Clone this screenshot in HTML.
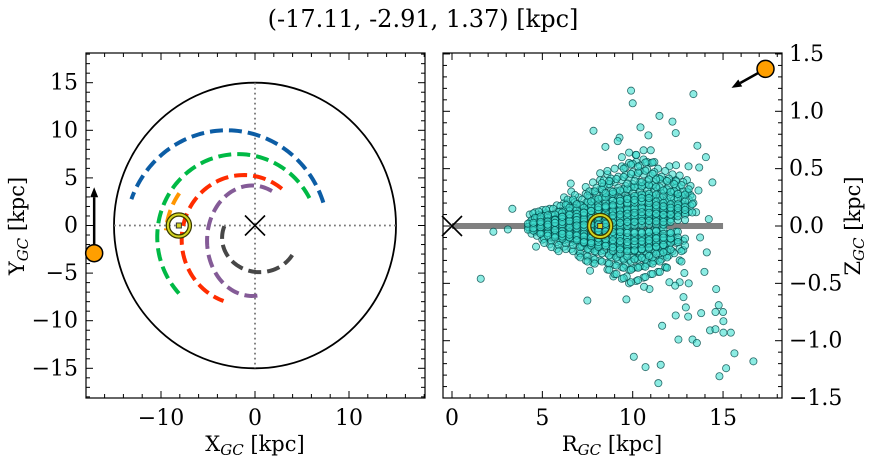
<!DOCTYPE html>
<html><head><meta charset="utf-8">
<style>
html,body{margin:0;padding:0;background:#fff;}
svg{display:block;font-family:"DejaVu Serif","Liberation Serif",serif;}
</style></head>
<body>
<svg id="c" width="874" height="464" viewBox="0 0 874 464" xmlns="http://www.w3.org/2000/svg">
<text x="423" y="27" text-anchor="middle" font-size="24">(-17.11, -2.91, 1.37) [kpc]</text>
<g id="left"></g>
<g id="right"></g>
</svg>
<script>
// ---- data ----
const starXY = [-17.11, -2.91];
const starRZ = [17.35, 1.37];
const sunXY = [-8.1, 0];
const sunRZ = [8.2, 0];
const diskRadius = 15;
// orbit arcs: [cx, cy, rx, ry, startDeg, endDeg, color]
const arcBlue = [-3, -1, 10.8, 11, 18, 160, '#0C5DA5'];
const arcGreen = [-1.8, -1.2, 8.6, 8.7, 28, 223, '#00B945'];
const arcRed = [-1.2, -1.5, 6.6, 6.8, 52, 251, '#FF2C00'];
const arcPurple = [-0.3, -1.6, 4.8, 5.8, 64, 280, '#845B97'];
const arcGray = [0.5, -1.3, 4.0, 3.6, 160, 330, '#474747'];
const arcOrange = [-1.5, -1.2, 8, 8, 145, 175, '#FF9500'];
const arcs = [arcBlue, arcGreen, arcRed, arcPurple, arcGray, arcOrange];
// scatter outliers [R, Z]
const outliers = [[9.91,1.18],[10.0,1.07],[13.36,1.15],[11.48,0.96],[12.2,0.91],[7.83,0.83],[10.43,0.86],[12.38,0.81],[10.87,0.79],[9.27,0.77],[9.17,0.74],[8.49,0.69],[13.58,0.70],[14.05,0.60],[10.17,0.62],[14.41,0.38],[6.57,0.37],[3.34,0.15],[2.29,-0.05],[3.09,-0.03],[1.59,-0.46],[4.65,-0.18],[7.49,-0.65],[9.65,-0.64],[11.63,-0.87],[10.06,-1.14],[10.71,-1.23],[11.42,-1.37],[11.55,-1.21],[12.53,-0.99],[12.38,-0.78],[12.81,-0.62],[12.94,-0.71],[13.07,-0.79],[13.79,-0.76],[13.31,-0.99],[13.55,-1.02],[14.28,-0.91],[14.58,-0.90],[14.76,-0.69],[14.58,-0.75],[15.0,-0.75],[15.02,-0.83],[15.02,-0.93],[15.43,-0.93],[15.63,-1.11],[15.17,-1.24],[14.8,-1.31],[16.68,-1.18],[14.62,-0.55],[13.97,-0.40],[14.1,-0.23],[13.73,-0.10],[14.21,0.06],[13.51,0.12],[13.36,0.20],[13.05,0.29],[13.64,0.31],[12.38,0.40],[12.03,0.52],[12.4,0.53],[13.09,0.52],[13.68,0.51],[12.86,-0.41],[12.6,-0.49],[12.03,-0.49],[12.35,-0.52],[13.1,-0.50],[10.93,-0.55],[10.63,-0.53],[11.83,-0.36],[8.93,-0.44],[7.64,-0.39],[9.67,-0.44]];
// dense core: [R, [Z values]]
const core = [[4.3,[0.03,-0.03,0.1]],[4.6,[0.08,-0.05,0.0,0.12]],[5.0,[0.1,-0.08,0.02,0.14,-0.12]],[5.4,[0.15,-0.1,0.03,-0.16,0.08]],[5.8,[0.18,-0.14,0.05,-0.04,0.12,-0.2]],[6.2,[0.2,-0.18,0.08,-0.06,0.14,-0.12,0.25]],[6.6,[0.22,-0.2,0.1,-0.08,0.02,0.16,-0.14,0.3]],[7.0,[0.25,-0.22,0.12,-0.1,0.0,0.18,-0.16,0.06,-0.26]],[7.4,[0.28,-0.25,0.14,-0.12,0.02,0.2,-0.18,0.08,0.34,-0.3]],[7.8,[0.3,-0.28,0.15,-0.13,0.02,0.22,-0.2,0.08,0.38,-0.06,-0.32]],[8.2,[0.32,-0.3,0.16,-0.14,0.0,0.24,-0.22,0.08,0.4,-0.06,0.46]],[8.6,[0.35,-0.32,0.18,-0.15,0.02,0.26,-0.24,0.1,0.45,-0.07,-0.38,0.48]],[9.0,[0.38,-0.34,0.2,-0.16,0.03,0.28,-0.26,0.12,0.5,-0.08,-0.42]],[9.4,[0.4,-0.36,0.22,-0.18,0.04,0.3,-0.28,0.12,0.52,-0.08,-0.46,0.6]],[9.8,[0.42,-0.38,0.24,-0.2,0.05,0.32,-0.3,0.14,0.55,-0.1,-0.5,0.64]],[10.2,[0.44,-0.36,0.26,-0.2,0.06,0.34,-0.28,0.14,0.56,-0.1,-0.48,0.62]],[10.6,[0.45,-0.35,0.27,-0.2,0.07,0.35,-0.28,0.16,0.58,-0.1,-0.45,0.66]],[11.0,[0.44,-0.32,0.26,-0.18,0.08,0.34,-0.26,0.16,0.55,-0.08,-0.42,0.66]],[11.4,[0.42,-0.3,0.24,-0.16,0.08,0.32,-0.22,0.15,0.5,-0.06,-0.4]],[11.8,[0.4,-0.26,0.22,-0.12,0.08,0.3,-0.2,0.14,0.48,-0.36]],[12.2,[0.38,-0.22,0.2,-0.1,0.3,0.14,0.45]],[12.6,[0.34,-0.2,0.18,0.26,0.44,-0.3]],[13.0,[0.3,0.18,0.4]]];
const leftXTicks = [-10, 0, 10];
const leftYTicks = [-15, -10, -5, 0, 5, 10, 15];
const rightXTicks = [0, 5, 10, 15];
const rightYTicks = [-1.5, -1.0, -0.5, 0.0, 0.5, 1.0, 1.5];

// ---- axes ----
const NS = 'http://www.w3.org/2000/svg';
const L = {x0:86, x1:425, y0:53, y1:398};
const R = {x0:443, x1:782, y0:53, y1:398};
const lx = v => 255 + v*9.4;
const ly = v => 225.5 - v*9.52;
const rx = v => 452 + v*18.07;
const ry = v => 226 - v*114.7;

function mk(tag, attrs, parent){
  const e = document.createElementNS(NS, tag);
  for (const k in attrs) e.setAttribute(k, attrs[k]);
  parent.appendChild(e);
  return e;
}
const gl = document.getElementById('left');
const gr = document.getElementById('right');

function fmtMinus(s){ return String(s).replace('-', '\u2212'); }

function frame(g, B, xs, ys, xMajor, xMinorStep, xr, yMajor, yMinorStep, yr, labelRight, yfmt){
  for (let v = xr[0]; v <= xr[1]+1e-9; v += xMinorStep){
    const X = xs(v); if (X < B.x0 || X > B.x1) continue;
    const isMaj = xMajor.some(m => Math.abs(m-v) < 1e-6);
    const len = isMaj ? 7 : 4;
    const t1 = mk('line', {x1:X, x2:X, y1:B.y1, y2:B.y1-len, stroke:'#000', 'stroke-width':1}, g);
    
    
    const t2 = mk('line', {x1:X, x2:X, y1:B.y0, y2:B.y0+len, stroke:'#000', 'stroke-width':1}, g);
    
    
  }
  for (let v = yr[0]; v <= yr[1]+1e-9; v += yMinorStep){
    const Y = ys(v); if (Y < B.y0 || Y > B.y1) continue;
    const isMaj = yMajor.some(m => Math.abs(m-v) < 1e-6);
    const len = isMaj ? 7 : 4;
    const t1 = mk('line', {x1:B.x0, x2:B.x0+len, y1:Y, y2:Y, stroke:'#000', 'stroke-width':1}, g);
    
    
    const t2 = mk('line', {x1:B.x1, x2:B.x1-len, y1:Y, y2:Y, stroke:'#000', 'stroke-width':1}, g);
    
    
  }
  xMajor.forEach(v => {
    const t = mk('text', {x:xs(v), y:B.y1+27, 'text-anchor':'middle', 'font-size':22}, g);
    t.textContent = fmtMinus(v);
    
    
  });
  yMajor.forEach(v => {
    const t = mk('text', labelRight ? {x:B.x1+7, y:ys(v)+7, 'text-anchor':'start', 'font-size':22}
                                    : {x:B.x0-8, y:ys(v)+7, 'text-anchor':'end', 'font-size':22}, g);
    t.textContent = fmtMinus(yfmt(v));
    
    
  });
  const r = mk('rect', {x:B.x0, y:B.y0, width:B.x1-B.x0, height:B.y1-B.y0, fill:'none', stroke:'#000', 'stroke-width':1.2}, g);
  
  
}

function cross(g, X, Y, s, name){
  const p = mk('path', {d:`M${X-s},${Y-s}L${X+s},${Y+s}M${X-s},${Y+s}L${X+s},${Y-s}`, stroke:'#000', 'stroke-width':1.6, fill:'none'}, g);
  
  
}
function sunMark(g, X, Y, name){
  const a = mk('circle', {cx:X, cy:Y, r:11, fill:'none', stroke:'#3a3a00', 'stroke-width':4.5}, g);
  
  
  const b = mk('circle', {cx:X, cy:Y, r:11, fill:'none', stroke:'#d4d420', 'stroke-width':2}, g);
  
  
  const c = mk('rect', {x:X-2.5, y:Y-2.5, width:5, height:5, fill:'#d4d420', stroke:'#333', 'stroke-width':1}, g);
  
  
}
function arrow(g, x1, y1, x2, y2, name){
  const ang = Math.atan2(y2-y1, x2-x1), h = 10, w = 4;
  const bx = x2 - h*Math.cos(ang), by = y2 - h*Math.sin(ang);
  const l = mk('line', {x1:x1, y1:y1, x2:bx, y2:by, stroke:'#000', 'stroke-width':2.5}, g);
  
  
  const px = -Math.sin(ang)*w, py = Math.cos(ang)*w;
  const p = mk('polygon', {points:`${x2},${y2} ${bx+px},${by+py} ${bx-px},${by-py}`, fill:'#000'}, g);
  
  
}

// ---- left panel ----
frame(gl, L, lx, ly, leftXTicks, 2, [-18, 18], leftYTicks, 1, [-18, 18], false, v => v);
const disk = mk('ellipse', {cx:lx(0), cy:ly(0), rx:diskRadius*9.4, ry:diskRadius*9.52, fill:'none', stroke:'#000', 'stroke-width':1.8}, gl);


const hx = mk('line', {x1:lx(-15), x2:lx(15), y1:ly(0), y2:ly(0), stroke:'#777', 'stroke-width':1.8, 'stroke-dasharray':'1.8 3.2'}, gl);


const vy = mk('line', {x1:lx(0), x2:lx(0), y1:ly(15), y2:ly(-15), stroke:'#777', 'stroke-width':1.8, 'stroke-dasharray':'1.8 3.2'}, gl);


const arcNames = ['orbit-arc-blue','orbit-arc-green','orbit-arc-red','orbit-arc-purple','orbit-arc-gray','orbit-arc-orange'];
arcs.forEach((a, i) => {
  const [cx, cy, ax, ay, s, e, col] = a;
  let d = '';
  for (let k = 0; k <= 80; k++){
    const t = (s + (e - s)*k/80) * Math.PI/180;
    d += (k ? 'L' : 'M') + lx(cx + ax*Math.cos(t)).toFixed(2) + ',' + ly(cy + ay*Math.sin(t)).toFixed(2);
  }
  const p = mk('path', {d:d, fill:'none', stroke:col, 'stroke-width':4, 'stroke-dasharray':'13 6'}, gl);
  
  
});
cross(gl, lx(0), ly(0), 10, 'galactic-center-marker');
sunMark(gl, lx(sunXY[0]), ly(sunXY[1]), 'sun-marker');
arrow(gl, lx(starXY[0]), ly(starXY[1]), lx(starXY[0]), ly(starXY[1]) - 66, 'star-velocity-arrow');
const sl = mk('circle', {cx:lx(starXY[0]), cy:ly(starXY[1]), r:8.5, fill:'#FF9F00', stroke:'#000', 'stroke-width':1.5}, gl);


const xl = mk('text', {x:255, y:451, 'text-anchor':'middle', 'font-size':21}, gl);
xl.innerHTML = 'X<tspan font-size="15" dy="4" font-style="italic">GC</tspan><tspan dy="-4"> [kpc]</tspan>';


const yl = mk('text', {x:0, y:0, 'text-anchor':'middle', 'font-size':21, transform:'translate(24,226) rotate(-90)'}, gl);
yl.innerHTML = 'Y<tspan font-size="15" dy="4" font-style="italic">GC</tspan><tspan dy="-4"> [kpc]</tspan>';



// ---- right panel ----
frame(gr, R, rx, ry, rightXTicks, 1, [0, 18], rightYTicks, 0.1, [-1.5, 1.5], true, v => v.toFixed(1));
const band = mk('line', {x1:rx(0), x2:rx(15), y1:ry(0), y2:ry(0), stroke:'#808080', 'stroke-width':6}, gr);


const gs = mk('g', {}, gr);


function dot(R_, Z_){
  const c = mk('circle', {cx:rx(R_), cy:ry(Z_), r:3.6, fill:'rgba(64,224,208,0.6)', stroke:'rgba(0,70,70,0.8)', 'stroke-width':0.8}, gs);
  
  
}
outliers.forEach(([R_, Z_]) => dot(R_, Z_));
core.forEach(([R_, zs]) => zs.forEach(z => dot(R_, z)));
core.forEach(([R_, zs]) => zs.forEach(z => dot(R_ + 0.2, z * 0.8 + 0.03)));
core.forEach(([R_, zs]) => zs.forEach(z => dot(R_ + 0.1, z * 0.9 - 0.04)));
core.forEach(([R_, zs]) => zs.forEach(z => dot(R_ + 0.3, z * 0.6 + 0.01)));
core.forEach(([R_, zs]) => zs.forEach(z => dot(R_ - 0.1, z * 0.4 - 0.02)));
cross(gr, rx(0), ry(0), 10, 'galactic-center-marker-rz');
sunMark(gr, rx(sunRZ[0]), ry(sunRZ[1]), 'sun-marker-rz');
arrow(gr, rx(starRZ[0]), ry(starRZ[1]), rx(starRZ[0]) - 34, ry(starRZ[1]) + 19, 'star-velocity-arrow-rz');
const sr = mk('circle', {cx:rx(starRZ[0]), cy:ry(starRZ[1]), r:8.5, fill:'#FF9F00', stroke:'#000', 'stroke-width':1.5}, gr);


const rxl = mk('text', {x:612, y:451, 'text-anchor':'middle', 'font-size':21}, gr);
rxl.innerHTML = 'R<tspan font-size="15" dy="4" font-style="italic">GC</tspan><tspan dy="-4"> [kpc]</tspan>';


const ryl = mk('text', {x:0, y:0, 'text-anchor':'middle', 'font-size':21, transform:'translate(860,226) rotate(-90)'}, gr);
ryl.innerHTML = 'Z<tspan font-size="15" dy="4" font-style="italic">GC</tspan><tspan dy="-4"> [kpc]</tspan>';


</script>
</body></html>
